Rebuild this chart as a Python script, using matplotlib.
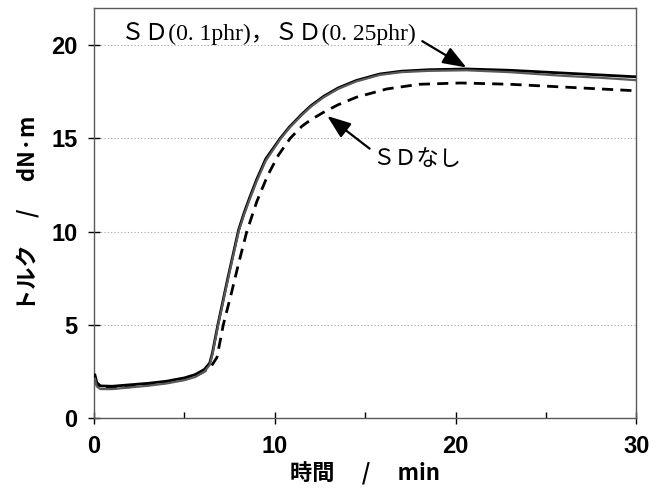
import matplotlib
matplotlib.use("Agg")
import matplotlib.pyplot as plt
from matplotlib.ticker import MultipleLocator

# === Datos ===
t_sd01 = [0.05, 0.15, 0.35, 1, 2, 3, 4, 5, 5.6, 6.1, 6.4, 6.55, 6.85, 7.4, 8.0,
          8.3, 8.6, 9.0, 9.5, 10.3, 10.8, 11.5, 12.0, 12.7, 13.5, 14.5, 15.8, 17.0,
          18.5, 20.6, 23, 26, 28, 30]
v_sd01 = [2.3, 1.9, 1.72, 1.7, 1.78, 1.86, 1.97, 2.15, 2.33, 2.6, 2.95, 3.5, 5.0,
          7.5, 10.1, 11.0, 11.8, 12.8, 13.9, 15.0, 15.6, 16.3, 16.75, 17.25, 17.7,
          18.1, 18.45, 18.6, 18.68, 18.72, 18.65, 18.5, 18.4, 18.3]

t_sd025 = [0.05, 0.15, 0.35, 1, 2, 3, 4, 5, 5.6, 6.1, 6.4, 6.55, 6.85, 7.4, 8.0,
           8.3, 8.6, 9.0, 9.5, 10.3, 10.8, 11.5, 12.0, 12.7, 13.5, 14.5, 15.8, 17.0,
           18.5, 20.6, 23, 26, 28, 30]
v_sd025 = [2.1, 1.7, 1.55, 1.55, 1.64, 1.73, 1.85, 2.03, 2.2, 2.48, 2.85, 3.4, 4.9,
           7.4, 10.0, 10.9, 11.7, 12.7, 13.8, 14.95, 15.55, 16.25, 16.7, 17.2, 17.65,
           18.05, 18.4, 18.55, 18.62, 18.65, 18.55, 18.35, 18.25, 18.12]

t_nosd = [0.05, 0.15, 0.35, 1, 2, 3, 4, 5, 5.6, 6.1, 6.5, 6.8, 7.15, 7.6, 8.0,
          8.45, 9.0, 9.6, 10.2, 10.85, 11.5, 12.0, 12.7, 13.5, 14.5, 16.2, 18.0,
          20.3, 23, 26, 28, 30]
v_nosd = [2.2, 1.8, 1.62, 1.6, 1.68, 1.78, 1.9, 2.08, 2.25, 2.5, 2.8, 3.25, 5.0,
          6.7, 8.3, 10.0, 11.6, 13.0, 14.1, 15.0, 15.65, 16.0, 16.4, 16.8, 17.2,
          17.65, 17.9, 17.97, 17.9, 17.75, 17.65, 17.55]

xticks = [0, 10, 20, 30]
yticks = [0, 5, 10, 15, 20]

jp = ['Noto Sans CJK JP', 'DejaVu Sans']
jp_serif = ['Liberation Serif', 'Noto Sans CJK JP', 'DejaVu Sans']
num_font = ['Liberation Sans', 'DejaVu Sans']

fig = plt.figure(figsize=(6.67, 4.9), dpi=100)
ax = fig.add_axes([0.141, 0.147, 0.813, 0.837])

# curvas
ax.plot(t_nosd, v_nosd, color='black', lw=2.0, ls=(0, (4, 2.6)), zorder=3)
ax.plot(t_sd01, v_sd01, color='black', lw=2.0, zorder=4)
ax.plot(t_sd025, v_sd025, color='0.35', lw=1.6, zorder=4)

ax.set_xlim(0, 30)
ax.set_ylim(0, 22)
ax.set_xticks(xticks)
ax.set_yticks(yticks)
ax.xaxis.set_minor_locator(MultipleLocator(5))
ax.tick_params(axis='both', which='major', direction='inout', length=8, width=1,
               pad=8)
ax.tick_params(axis='x', which='minor', direction='in', length=4, width=1)
ax.grid(axis='y', color='0.65', ls=(0, (1, 2)), lw=0.8)

for lab in ax.get_xticklabels() + ax.get_yticklabels():
    lab.set_family(num_font)
    lab.set_fontsize(17)
    lab.set_fontweight('bold')

for s in ax.spines.values():
    s.set_color('0.35')
    s.set_linewidth(1.0)

ax.set_xlabel('時間　 /　 min', family=jp, fontsize=16, fontweight='bold', labelpad=3)
ax.set_ylabel('トルク　 /　 dN·m', family=jp, fontsize=16, fontweight='bold',
              labelpad=8)

# anotaciones
flecha = '-|>,head_length=0.8,head_width=0.3'
ax.annotate('ＳＤ(0. 1phr)，ＳＤ(0. 25phr)', xy=(20.6, 18.8), xytext=(1.5, 20.6),
            family=jp_serif, fontsize=17, va='center', ha='left',
            arrowprops=dict(arrowstyle=flecha, color='black', lw=1.6,
                            mutation_scale=18, shrinkA=3, shrinkB=0,
                            relpos=(1.0, 0.35)))
ax.annotate('ＳＤなし', xy=(12.9, 16.2), xytext=(15.4, 13.9),
            family=jp, fontsize=16, va='center', ha='left',
            arrowprops=dict(arrowstyle=flecha, color='black', lw=1.6,
                            mutation_scale=18, shrinkA=0, shrinkB=0,
                            relpos=(0.0, 0.85)))

fig.savefig('out.png', dpi=100)
